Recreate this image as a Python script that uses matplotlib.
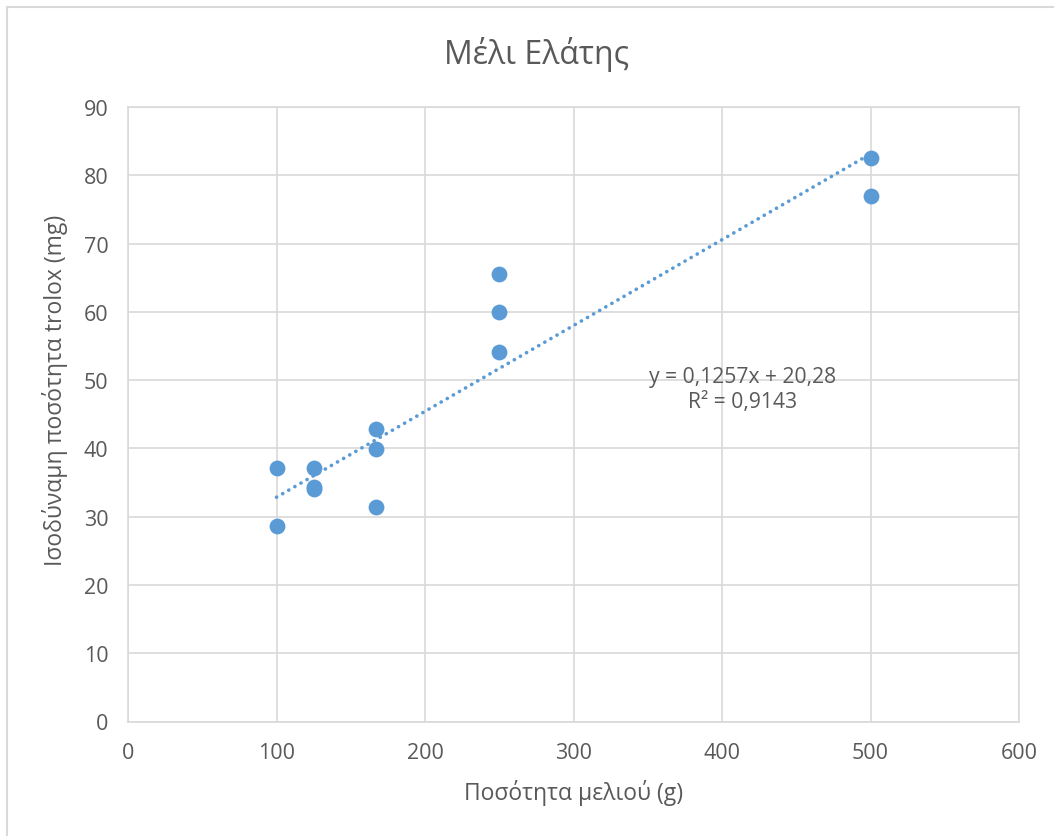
import numpy as np
import matplotlib
matplotlib.use("Agg")
from matplotlib import pyplot as plt
from matplotlib.patches import Rectangle

# data
honey_g = [100, 100, 125, 125, 125, 167, 167, 167, 250, 250, 250, 500, 500]
trolox_mg = [37.1, 28.6, 37.1, 34.4, 34.0, 42.8, 39.9, 31.4, 65.5, 60.0, 54.1, 82.6, 77.0]
x_ticks = [0, 100, 200, 300, 400, 500, 600]
y_ticks = [0, 10, 20, 30, 40, 50, 60, 70, 80, 90]
# trendline as printed on the chart
trend_coef = [0.1257, 20.28]
eq_text = "y = 0,1257x + 20,28\nR² = 0,9143"

blue = "#5B9BD5"
grey_txt = "#595959"
grid_col = "#D9D9D9"

plt.rcParams['font.family'] = ['Open Sans', 'DejaVu Sans']

W, H = 1054, 837
fig = plt.figure(figsize=(W / 100, H / 100), dpi=100)
ax = fig.add_axes([128 / W, 1 - 722.5 / H, (1019 - 128) / W, (722.5 - 108) / H])

# chart border (right/bottom cut off in the original)
fig.patches.append(Rectangle((7 / W, -0.05), 1.2, 0.05 + 1 - 8 / H,
                             transform=fig.transFigure, fill=False,
                             edgecolor="#D9D9D9", linewidth=1.5))

ax.scatter(honey_g, trolox_mg, s=130, color=blue, zorder=3, linewidths=0)

# linear trendline
xs = np.array([min(honey_g), max(honey_g)])
ax.plot(xs, np.polyval(trend_coef, xs), color=blue, lw=2.6,
        linestyle=(0, (0.05, 1.9)), dash_capstyle="round", zorder=2)

ax.text(414, 48.7, eq_text, ha="center", va="center", fontsize=15.2,
        color=grey_txt, linespacing=1.2)

ax.set_xlim(0, 600)
ax.set_ylim(0, 90)
ax.set_xticks(x_ticks)
ax.set_yticks(y_ticks)
ax.grid(True, color=grid_col, lw=1.2)
ax.set_axisbelow(True)
for s in ax.spines.values():
    s.set_color(grid_col)
    s.set_linewidth(1.2)
ax.tick_params(length=0, labelsize=15.5, labelcolor=grey_txt)
ax.tick_params(axis="x", pad=15)
ax.tick_params(axis="y", pad=14)

fig.text(537 / W, 1 - 55 / H, "Μέλι Ελάτης", fontsize=23, color=grey_txt,
         ha="center", va="center")
fig.text(574 / W, 1 - 793 / H, "Ποσότητα μελιού (g)", fontsize=16.5,
         color=grey_txt, ha="center", va="center")
fig.text(55 / W, 1 - 390 / H, "Ισοδύναμη ποσότητα trolox (mg)", fontsize=16.5,
         color=grey_txt, ha="center", va="center", rotation=90)

fig.savefig("out.png", dpi=100)
